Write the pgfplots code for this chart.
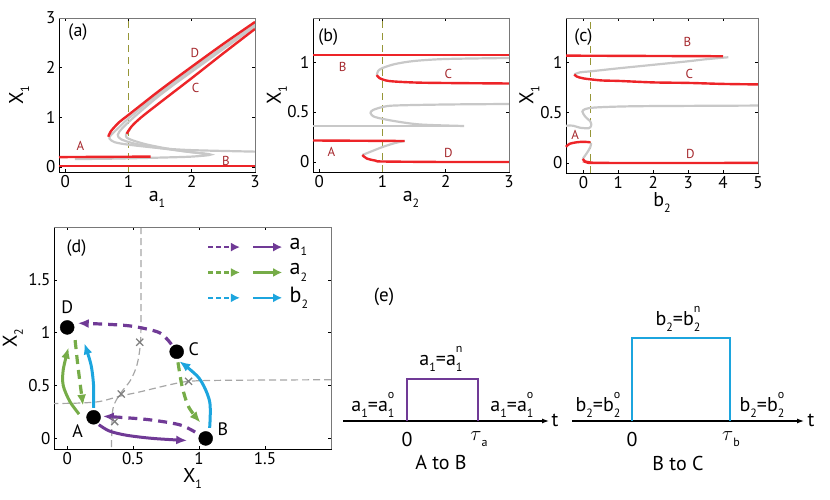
\documentclass[border=0pt]{standalone}
\usepackage{pgfplots}
\pgfplotsset{compat=1.18}
\usetikzlibrary{arrows.meta}
\usepackage{fontspec}
\setmainfont{PT Sans}
\definecolor{cred}{RGB}{237,36,40}
\definecolor{cgray}{RGB}{200,200,200}
\definecolor{colive}{RGB}{150,150,55}
\definecolor{cpurp}{RGB}{112,58,150}
\definecolor{cgreen}{RGB}{118,172,72}
\definecolor{cblue}{RGB}{28,165,222}
\definecolor{dred}{RGB}{165,40,45}
\definecolor{boxgray}{RGB}{120,120,120}
\newcommand{\fs}[1]{\fontsize{#1}{#1}\selectfont}
\newcommand{\Sb}[2]{#1\raisebox{-0.6ex}{\fs{12}#2}}
\newcommand{\SbSp}[3]{#1\rlap{\raisebox{-0.6ex}{\fs{12}#2}}\rlap{\raisebox{1.3ex}{\fs{12}#3}}\hphantom{\fs{12}#2}}
\pgfplotsset{
  panel/.style={scale only axis, anchor=south west, clip=false,
    tick align=inside, major tick length=3pt,
    tick style={black, line width=0.6pt},
    axis line style={line width=0.8pt},
    ticklabel style={font=\fs{17}},
    /pgf/number format/assume math mode=true,
    label style={font=\fs{20}},
    xlabel style={yshift=3pt}},
  redl/.style={cred, line width=2.4pt, no marks},
  grayl/.style={cgray, line width=2.2pt, no marks},
  olived/.style={colive, line width=1.3pt, dash pattern=on 7pt off 5pt, no marks},
}
\begin{document}
\begin{tikzpicture}
\useasboundingbox (0,0) rectangle (830pt,499pt);
% ---------------- (a)
\begin{axis}[panel, at={(59pt,327pt)}, width=196pt, height=154pt,
  xmin=-0.1, xmax=3, ymin=-0.1, ymax=3, xtick={0,1,2,3}, ytick={0,1,2,3},
  xlabel={\Sb{a}{1}}, ylabel={\Sb{X}{1}},
  ylabel style={at={(axis description cs:-0.135,0.5)}, anchor=south}]
\addplot[olived] coordinates {(1,-0.1) (1,3)};
\addplot[grayl, smooth] coordinates {(3,2.87)(2,1.97)(1.5,1.5)(1,0.98)(0.85,0.8)(0.72,0.64)(0.7,0.57)(0.78,0.5)(1.0,0.45)(1.5,0.38)(2,0.34)(3,0.31)};
\addplot[grayl, smooth] coordinates {(3,2.83)(2,1.92)(1.5,1.45)(1.1,1.02)(0.9,0.78)(0.83,0.65)(0.88,0.56)(1.1,0.47)(1.5,0.38)(2.0,0.3)(2.3,0.25)(2.0,0.21)(1.5,0.19)(0.8,0.17)(0.15,0.16)};
\addplot[grayl, smooth] coordinates {(1.02,0.75)(0.96,0.65)(1.0,0.57)(1.3,0.45)(1.8,0.33)(2.2,0.27)};
\addplot[redl, smooth] coordinates {(0.68,0.61)(0.72,0.72)(0.85,0.9)(1.0,1.05)(1.5,1.55)(2,2.02)(2.5,2.48)(3,2.92)};
\addplot[redl, smooth] coordinates {(0.97,0.67)(1.05,0.82)(1.2,1.0)(1.5,1.3)(2,1.79)(2.5,2.29)(3,2.78)};
\addplot[redl] coordinates {(-0.1,0.2)(1.35,0.21)};
\addplot[redl] coordinates {(-0.1,0.02)(3,0.02)};
\draw[boxgray, line width=0.8pt] (rel axis cs:0,1) -- (rel axis cs:1,1) -- (rel axis cs:1,0);
\node[font=\fs{18}] at (axis cs:0.2,2.72) {(a)};
\node[font=\fs{13}, text=dred] at (axis cs:2.05,2.3) {D};
\node[font=\fs{13}, text=dred] at (axis cs:2.06,1.6) {C};
\node[font=\fs{13}, text=dred] at (axis cs:0.24,0.42) {A};
\node[font=\fs{13}, text=dred] at (axis cs:2.54,0.13) {B};
\end{axis}
% ---------------- (b)
\begin{axis}[panel, at={(313pt,327pt)}, width=196pt, height=154pt,
  xmin=-0.1, xmax=3, ymin=-0.1, ymax=1.44, xtick={0,1,2,3}, ytick={0,0.5,1},
  xlabel={\Sb{a}{2}}, ylabel={\Sb{X}{1}},
  ylabel style={at={(axis description cs:-0.115,0.5)}, anchor=south}]
\addplot[olived] coordinates {(1,-0.1) (1,1.44)};
\addplot[grayl, smooth] coordinates {(0.91,0.87)(0.93,0.91)(1.0,0.94)(1.2,0.98)(1.5,1.01)(2,1.03)(3,1.04)};
\addplot[grayl, smooth] coordinates {(3,0.58)(2,0.575)(1.2,0.565)(1.0,0.55)(0.85,0.52)(0.81,0.49)(0.88,0.45)(1.18,0.41)(1.6,0.375)(2.29,0.36)};
\addplot[grayl] coordinates {(-0.1,0.36)(2.29,0.36)};
\addplot[grayl, smooth] coordinates {(1.35,0.21)(1.2,0.19)(1.0,0.15)(0.8,0.1)(0.68,0.07)};
\addplot[redl] coordinates {(-0.1,1.07)(3,1.07)};
\addplot[redl, smooth] coordinates {(0.91,0.87)(0.95,0.84)(1.1,0.81)(1.5,0.795)(2,0.79)(3,0.785)};
\addplot[redl] coordinates {(-0.1,0.215)(1.35,0.21)};
\addplot[redl, smooth] coordinates {(0.68,0.07)(0.75,0.035)(0.9,0.012)(1.0,0.005)(2,0)(3,0)};
\draw[boxgray, line width=0.8pt] (rel axis cs:0,1) -- (rel axis cs:1,1) -- (rel axis cs:1,0);
\node[font=\fs{18}] at (axis cs:0.14,1.25) {(b)};
\node[font=\fs{13}, text=dred] at (axis cs:0.37,0.95) {B};
\node[font=\fs{13}, text=dred] at (axis cs:2.04,0.88) {C};
\node[font=\fs{13}, text=dred] at (axis cs:0.19,0.1) {A};
\node[font=\fs{13}, text=dred] at (axis cs:2.04,0.09) {D};
\end{axis}
% ---------------- (c)
\begin{axis}[panel, at={(566pt,326pt)}, width=192pt, height=155pt,
  xmin=-0.5, xmax=5, ymin=-0.1, ymax=1.44, xtick={0,1,2,3,4,5}, ytick={0,0.5,1},
  xlabel={\Sb{b}{2}}, ylabel={\Sb{X}{1}},
  ylabel style={at={(axis description cs:-0.12,0.5)}, anchor=south}]
\addplot[olived] coordinates {(0.2,-0.1) (0.2,1.44)};
\addplot[grayl, smooth] coordinates {(4.15,1.05)(3.5,1.03)(3,1.01)(2,0.975)(1,0.94)(0.2,0.91)(-0.1,0.9)(-0.26,0.88)};
\addplot[grayl, smooth] coordinates {(5,0.57)(2,0.565)(1,0.56)(0.3,0.55)(0.05,0.535)(-0.03,0.51)(0.05,0.46)(0.2,0.41)(0.22,0.37)(0.15,0.345)(-0.1,0.35)(-0.3,0.37)(-0.5,0.37)};
\addplot[grayl, smooth] coordinates {(0.22,0.2)(0.2,0.16)(0.12,0.11)(0.02,0.06)(-0.02,0.04)};
\addplot[redl] coordinates {(-0.5,1.066)(4.0,1.06)};
\addplot[redl, smooth] coordinates {(-0.26,0.88)(-0.2,0.86)(0,0.84)(0.5,0.82)(1,0.815)(2,0.80)(3,0.795)(4,0.785)(5,0.78)};
\addplot[redl, smooth] coordinates {(-0.5,0.16)(-0.4,0.19)(-0.2,0.205)(0,0.21)(0.2,0.205)};
\addplot[redl, smooth] coordinates {(-0.02,0.04)(0.05,0.015)(0.2,0.005)(0.5,0)(5,0)};
\draw[boxgray, line width=0.8pt] (rel axis cs:0,1) -- (rel axis cs:1,1) -- (rel axis cs:1,0);
\node[font=\fs{18}] at (axis cs:0.0,1.25) {(c)};
\node[font=\fs{13}, text=dred] at (axis cs:2.98,1.2) {B};
\node[font=\fs{13}, text=dred] at (axis cs:3.03,0.88) {C};
\node[font=\fs{13}, text=dred] at (axis cs:-0.24,0.28) {A};
\node[font=\fs{13}, text=dred] at (axis cs:3.06,0.09) {D};
\end{axis}
% ---------------- (d)
\begin{axis}[panel, at={(54pt,50pt)}, width=277pt, height=222pt,
  xmin=-0.1, xmax=2, ymin=-0.1, ymax=2, xtick={0,0.5,1,1.5}, ytick={0,0.5,1,1.5},
  xlabel={\Sb{X}{1}}, ylabel={\Sb{X}{2}},
  ylabel style={at={(axis description cs:-0.1,0.5)}, anchor=south}]
\addplot[gray!70, line width=1.2pt, dash pattern=on 7pt off 4pt, smooth] coordinates {(0.56,2.0)(0.56,1.2)(0.555,0.9)(0.53,0.7)(0.48,0.55)(0.4,0.42)(0.35,0.3)(0.34,0.15)(0.335,-0.1)};
\addplot[gray!70, line width=1.2pt, dash pattern=on 7pt off 4pt, smooth] coordinates {(2,0.555)(1.2,0.55)(0.92,0.54)(0.75,0.5)(0.55,0.44)(0.4,0.4)(0.25,0.35)(0.1,0.335)(-0.1,0.33)};
\addplot[only marks, mark=x, mark size=5pt, gray, mark options={line width=1.3pt}] coordinates {(0.55,0.91)(0.92,0.54)(0.41,0.42)(0.36,0.16)};
% arrows
\addplot[cpurp, line width=3pt, smooth, -{Latex[length=11pt,width=9pt]}] coordinates {(0.24,0.13)(0.32,0.07)(0.45,0.03)(0.65,0.0)(0.91,-0.02)};
\addplot[cpurp, line width=3.2pt, dash pattern=on 9pt off 6pt, smooth, -{Latex[length=11pt,width=9pt]}] coordinates {(0.97,0.06)(0.85,0.13)(0.6,0.18)(0.27,0.21)};
\addplot[cpurp, line width=3.2pt, dash pattern=on 9pt off 6pt, smooth, -{Latex[length=11pt,width=9pt]}] coordinates {(0.79,0.89)(0.7,1.0)(0.5,1.06)(0.3,1.08)(0.08,1.09)};
\addplot[cgreen, line width=3pt, smooth, -{Latex[length=11pt,width=9pt]}] coordinates {(0.09,0.23)(0.02,0.35)(-0.03,0.5)(-0.03,0.65)(0.01,0.86)};
\addplot[cgreen, line width=3.2pt, dash pattern=on 9pt off 6pt, smooth, -{Latex[length=11pt,width=9pt]}] coordinates {(0.06,0.93)(0.08,0.7)(0.1,0.5)(0.12,0.31)};
\addplot[cgreen, line width=3.2pt, dash pattern=on 9pt off 6pt, smooth, -{Latex[length=11pt,width=9pt]}] coordinates {(0.84,0.72)(0.87,0.5)(0.92,0.3)(1.01,0.15)};
\addplot[cblue, line width=3pt, smooth, -{Latex[length=11pt,width=9pt]}] coordinates {(0.2,0.29)(0.2,0.5)(0.18,0.7)(0.13,0.9)};
\addplot[cblue, line width=3pt, smooth, -{Latex[length=11pt,width=9pt]}] coordinates {(1.08,0.1)(1.08,0.35)(1.0,0.57)(0.85,0.73)};
\addplot[only marks, mark=*, mark size=7pt, black] coordinates {(0.0,1.05)(0.83,0.82)(0.2,0.2)(1.05,0.0)};
% legend
\addplot[cpurp, line width=2.6pt, dash pattern=on 5pt off 3pt, -{Latex[length=9pt,width=9pt]}] coordinates {(1.07,1.81)(1.31,1.81)};
\addplot[cpurp, line width=2.6pt, -{Latex[length=9pt,width=9pt]}] coordinates {(1.41,1.81)(1.63,1.81)};
\addplot[cgreen, line width=2.6pt, dash pattern=on 5pt off 3pt, -{Latex[length=9pt,width=9pt]}] coordinates {(1.07,1.57)(1.31,1.57)};
\addplot[cgreen, line width=2.6pt, -{Latex[length=9pt,width=9pt]}] coordinates {(1.41,1.57)(1.63,1.57)};
\addplot[cblue, line width=2.6pt, dash pattern=on 5pt off 3pt, -{Latex[length=9pt,width=9pt]}] coordinates {(1.07,1.33)(1.31,1.33)};
\addplot[cblue, line width=2.6pt, -{Latex[length=9pt,width=9pt]}] coordinates {(1.41,1.33)(1.63,1.33)};
\node[font=\fs{22}, anchor=west] at (axis cs:1.66,1.81) {\Sb{a}{1}};
\node[font=\fs{22}, anchor=west] at (axis cs:1.66,1.57) {\Sb{a}{2}};
\node[font=\fs{22}, anchor=west] at (axis cs:1.66,1.33) {\Sb{b}{2}};
\draw[boxgray, line width=0.8pt] (rel axis cs:0,1) -- (rel axis cs:1,1) -- (rel axis cs:1,0);
\node[font=\fs{18}] at (axis cs:0.07,1.8) {(d)};
\node[font=\fs{18}] at (axis cs:0.0,1.24) {D};
\node[font=\fs{18}] at (axis cs:0.96,0.84) {C};
\node[font=\fs{18}] at (axis cs:0.08,0.07) {A};
\node[font=\fs{18}] at (axis cs:1.18,0.09) {B};
\end{axis}
% ---------------- (e)
\begin{axis}[scale only axis, hide axis, clip=false, anchor=south west, at={(330pt,0pt)},
  width=500pt, height=200pt, xmin=330, xmax=830, ymin=0, ymax=200]
\addplot[black, line width=1.2pt, -{Latex[length=7pt,width=5pt]}] coordinates {(343,78)(549,78)};
\addplot[black, line width=1.2pt, -{Latex[length=7pt,width=5pt]}] coordinates {(572,78)(804,78)};
\addplot[cpurp, line width=2.8pt] coordinates {(407,78)(407,120)(478,120)(478,78)};
\addplot[cblue, line width=2.8pt] coordinates {(632,78)(632,161)(730,161)(730,78)};
\node[font=\fs{20}] at (axis cs:555,79) {t};
\node[font=\fs{20}] at (axis cs:811,79) {t};
\node[font=\fs{19}] at (axis cs:384,202) {(e)};
\node[font=\fs{20}] at (axis cs:441,140) {\SbSp{a}{1}{}=\SbSp{a}{1}{n}};
\node[font=\fs{20}] at (axis cs:373,94) {\SbSp{a}{1}{}=\SbSp{a}{1}{o}};
\node[font=\fs{20}] at (axis cs:512,94) {\SbSp{a}{1}{}=\SbSp{a}{1}{o}};
\node[font=\fs{20}] at (axis cs:407,60) {0};
\node[font=\fs{20}] at (axis cs:479,60) {$\tau$\raisebox{-0.6ex}{\fs{12}a}};
\node[font=\fs{20}] at (axis cs:441,36) {A to B};
\node[font=\fs{20}] at (axis cs:678,180) {\SbSp{b}{2}{}=\SbSp{b}{2}{n}};
\node[font=\fs{20}] at (axis cs:598,94) {\SbSp{b}{2}{}=\SbSp{b}{2}{o}};
\node[font=\fs{20}] at (axis cs:762,94) {\SbSp{b}{2}{}=\SbSp{b}{2}{o}};
\node[font=\fs{20}] at (axis cs:632,60) {0};
\node[font=\fs{20}] at (axis cs:731,60) {$\tau$\raisebox{-0.6ex}{\fs{12}b}};
\node[font=\fs{20}] at (axis cs:678,36) {B to C};
\end{axis}
\end{tikzpicture}
\end{document}
